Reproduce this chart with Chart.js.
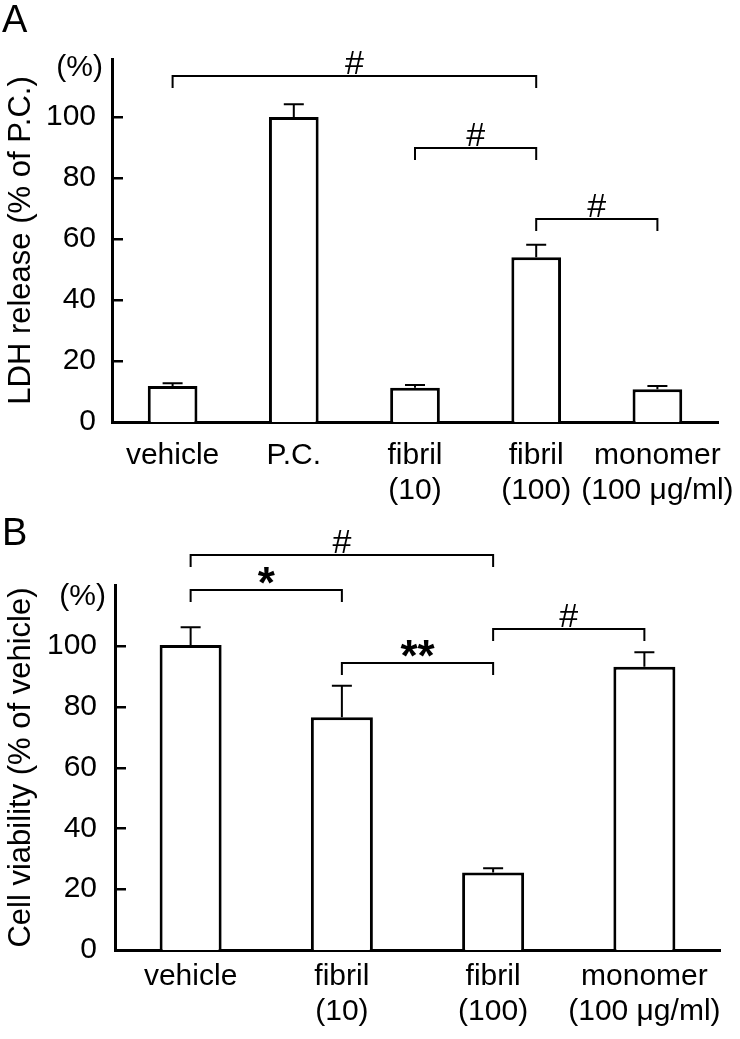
<!DOCTYPE html>
<html>
<head>
<meta charset="utf-8">
<script src="https://cdn.jsdelivr.net/npm/chart.js@4.4.0/dist/chart.umd.min.js"></script>
<style>
  body { margin: 0; background: #fff; }
  canvas { display: block; }
</style>
</head>
<body>
<canvas id="chartA" width="740" height="515"></canvas>
<canvas id="chartB" width="740" height="524"></canvas>
<script>
Chart.defaults.font.family = "'Liberation Sans', Arial, Helvetica, sans-serif";
Chart.defaults.color = '#000';

// panel A - LDH release (% of P.C.)
const labelsA = ['vehicle', 'P.C.', ['fibril', '(10)'], ['fibril', '(100)'], ['monomer', '(100 μg/ml)']];
const ldhMean = [11.8, 100, 11.2, 54.0, 10.7];
const ldhSem = [0.9, 4.2, 0.9, 4.1, 1.1];
// significance brackets: from bar, to bar, level (in %), mark
const bracketFromA = [0, 2, 3];
const bracketToA = [3, 3, 4];
const bracketLevelA = [113.3, 89.9, 66.4];
const bracketMarkA = ['#', '#', '#'];

// panel B - cell viability (% of vehicle)
const labelsB = ['vehicle', ['fibril', '(10)'], ['fibril', '(100)'], ['monomer', '(100 μg/ml)']];
const viabMean = [100.3, 76.5, 25.5, 93.1];
const viabSem = [5.8, 10.4, 1.4, 4.8];
const bracketFromB = [0, 0, 1, 2];
const bracketToB = [2, 1, 2, 3];
const bracketLevelB = [129.8, 118.3, 94.4, 105.5];
const bracketMarkB = ['#', '*', '**', '#'];

// draws error bars, inward ticks, brackets, "(%)" and the panel letter
const extras = {
  id: 'extras',
  afterDraw(chart, args, o) {
    const ctx = chart.ctx;
    const x = chart.scales.x, y = chart.scales.y;
    const area = chart.chartArea;
    const bars = chart.getDatasetMeta(0).data;
    const vals = chart.data.datasets[0].data;
    ctx.save();
    ctx.strokeStyle = '#000';
    ctx.fillStyle = '#000';

    // upper error bars only
    ctx.lineWidth = 2;
    o.sem.forEach((e, i) => {
      const bx = bars[i].x;
      const top = y.getPixelForValue(vals[i] + e);
      ctx.beginPath();
      ctx.moveTo(bx, bars[i].y);
      ctx.lineTo(bx, top);
      ctx.moveTo(bx - 10, top);
      ctx.lineTo(bx + 10, top);
      ctx.stroke();
    });

    // tick marks point into the plot
    ctx.lineWidth = 2.5;
    y.ticks.forEach(t => {
      if (t.value === 0) return;
      const py = Math.round(y.getPixelForValue(t.value)) + 0.25;
      ctx.beginPath();
      ctx.moveTo(area.left, py);
      ctx.lineTo(area.left + 11, py);
      ctx.stroke();
    });

    // brackets
    ctx.lineWidth = 2;
    ctx.textAlign = 'center';
    ctx.textBaseline = 'alphabetic';
    o.from.forEach((f, i) => {
      const x1 = x.getPixelForValue(f), x2 = x.getPixelForValue(o.to[i]);
      const py = Math.round(y.getPixelForValue(o.level[i]));
      ctx.beginPath();
      ctx.moveTo(x1, py + 12);
      ctx.lineTo(x1, py);
      ctx.lineTo(x2, py);
      ctx.lineTo(x2, py + 12);
      ctx.stroke();
      const mark = o.mark[i];
      const star = mark.includes('*');
      ctx.font = star ? 'bold 44px "Liberation Sans"' : '34px "Liberation Sans"';
      const m = ctx.measureText(mark);
      const cy = py - (star ? 15 : 14);
      ctx.fillText(mark, (x1 + x2) / 2, cy + (m.actualBoundingBoxAscent - m.actualBoundingBoxDescent) / 2);
    });

    // unit label at the top of the y axis
    ctx.font = '30px "Liberation Sans"';
    ctx.textAlign = 'right';
    const u = ctx.measureText('(%)');
    const uy = y.getPixelForValue(116);
    ctx.fillText('(%)', area.left - 9, uy + (u.actualBoundingBoxAscent - u.actualBoundingBoxDescent) / 2);

    // panel letter
    ctx.font = '38px "Liberation Sans"';
    ctx.textAlign = 'left';
    ctx.fillText(o.letter, 2, o.letterY);
    ctx.restore();
  }
};

function makeChart(id, labels, values, yTitle, yMax, box, o) {
  return new Chart(document.getElementById(id), {
    type: 'bar',
    data: {
      labels: labels,
      datasets: [{
        data: values,
        backgroundColor: '#fff',
        borderColor: '#000',
        borderWidth: 3,
        barPercentage: 0.41,
        categoryPercentage: 1
      }]
    },
    options: {
      responsive: false,
      animation: false,
      layout: { padding: { top: box.top, right: box.right, left: 0, bottom: 0 } },
      scales: {
        x: {
          offset: true,
          grid: { display: false },
          border: { color: '#000', width: 3 },
          ticks: { font: { size: 30, lineHeight: 1.14 }, padding: box.xPad, maxRotation: 0, autoSkip: false },
          afterFit: s => { s.height = box.xHeight; s.paddingLeft = 0; s.paddingRight = 0; }
        },
        y: {
          min: 0,
          max: yMax,
          grid: { display: false },
          border: { color: '#000', width: 3 },
          ticks: { stepSize: 20, font: { size: 30 }, padding: box.yPad },
          // only 0..100 carry a label, the axis runs a bit higher
          afterBuildTicks: s => { s.ticks = s.ticks.filter(t => t.value % 20 === 0 && t.value <= 100); },
          title: {
            display: true,
            text: yTitle,
            font: { size: 31, lineHeight: 1.2 },
            padding: { top: 3, bottom: 0 }
          },
          afterFit: s => { s.width = box.left; }
        }
      },
      plugins: {
        legend: { display: false },
        tooltip: { enabled: false },
        extras: o
      }
    },
    plugins: [extras]
  });
}

makeChart('chartA', labelsA, ldhMean, 'LDH release (% of P.C.)', 119,
  { top: 59, right: 22, left: 112, xHeight: 93, xPad: 9, yPad: 8 },
  { sem: ldhSem, from: bracketFromA, to: bracketToA, level: bracketLevelA, mark: bracketMarkA, letter: 'A', letterY: 32 });

makeChart('chartB', labelsB, viabMean, 'Cell viability (% of vehicle)', 120,
  { top: 70, right: 20, left: 115, xHeight: 89, xPad: 2, yPad: 10 },
  { sem: viabSem, from: bracketFromB, to: bracketToB, level: bracketLevelB, mark: bracketMarkB, letter: 'B', letterY: 30 });
</script>
</body>
</html>
